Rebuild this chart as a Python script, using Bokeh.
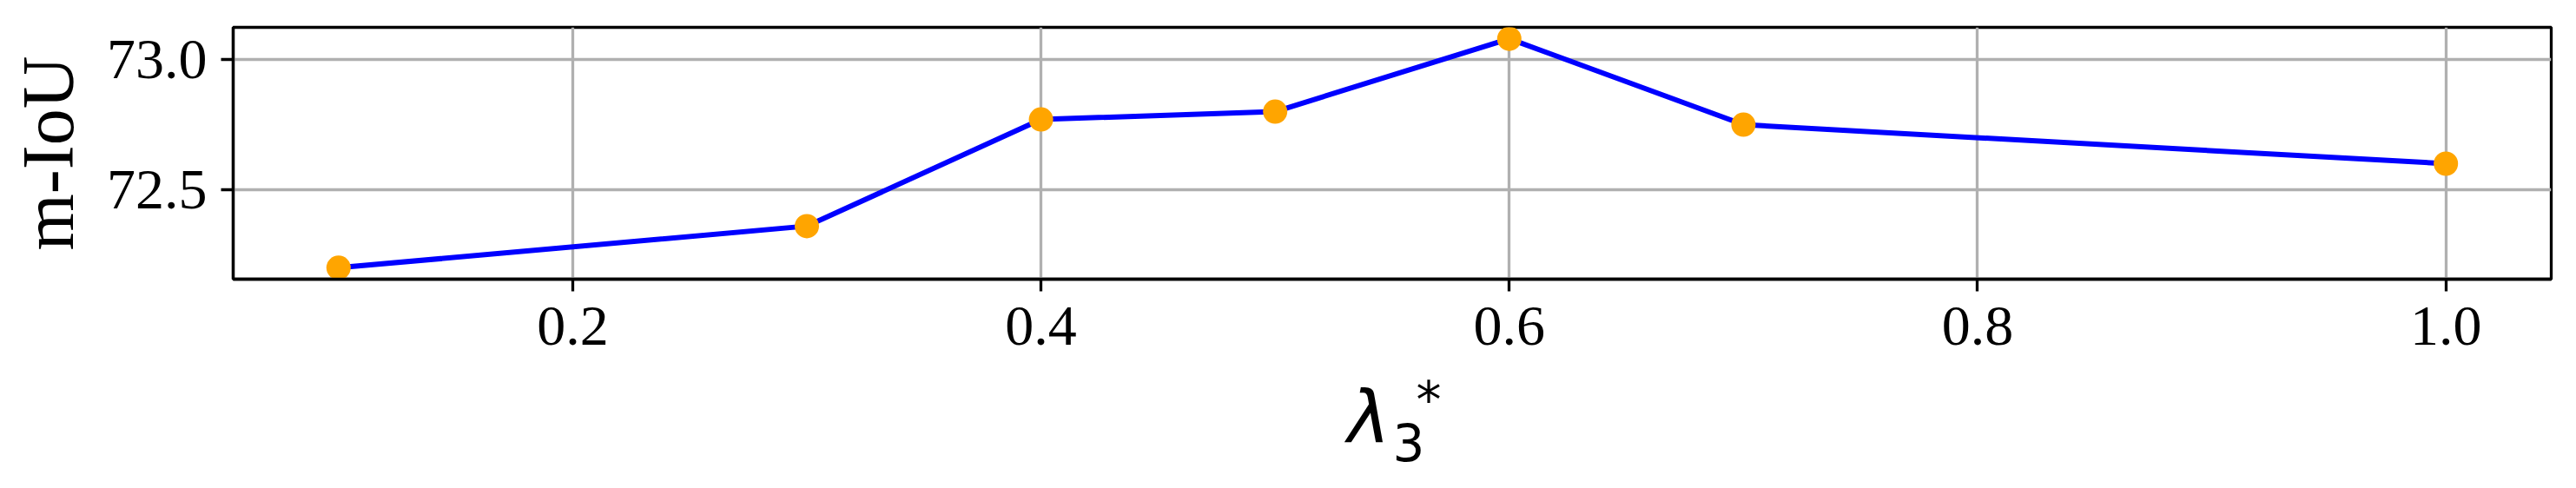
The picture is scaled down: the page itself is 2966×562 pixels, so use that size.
from bokeh.plotting import figure
from bokeh.models import Range1d, FixedTicker, PrintfTickFormatter
from bokeh.layouts import column
from bokeh.core.properties import value
from bokeh.embed import file_html
from bokeh.resources import INLINE

# data
lambda3 = [0.1, 0.3, 0.4, 0.5, 0.6, 0.7, 1.0]
miou = [72.20, 72.36, 72.77, 72.80, 73.08, 72.75, 72.60]
x_ticks = [0.2, 0.4, 0.6, 0.8, 1.0]
y_ticks = [72.5, 73.0]
y_label = "m-IoU"
x_label_parts = ["λ", "3", "*"]

W = 2950
H1, H2 = 424, 122
FRAME_L, FRAME_R = 268, 2937

p = figure(width=W, height=H1, output_backend="svg", toolbar_location=None,
           x_range=Range1d(0.055, 1.045), y_range=Range1d(72.156, 73.124),
           min_border_left=FRAME_L, min_border_right=W - FRAME_R, min_border_top=31,
           min_border_bottom=H1 - 321)
p.background_fill_color = "white"
p.border_fill_color = "white"
p.outline_line_color = "black"
p.outline_line_width = 3.3

p.line(lambda3, miou, line_color="#0000ff", line_width=6)
p.scatter(lambda3, miou, size=28, fill_color="#ffa500", line_color=None)

p.xaxis.ticker = FixedTicker(ticks=x_ticks)
p.yaxis.ticker = FixedTicker(ticks=y_ticks)
p.xaxis.formatter = PrintfTickFormatter(format="%.1f")
p.yaxis.formatter = PrintfTickFormatter(format="%.1f")
for ax in (p.xaxis[0], p.yaxis[0]):
    ax.axis_line_color = "black"
    ax.axis_line_width = 3.3
    ax.major_tick_line_color = "black"
    ax.major_tick_line_width = 3.3
    ax.major_tick_out = 14
    ax.major_tick_in = 0
    ax.minor_tick_line_color = None
    ax.major_label_text_font = "Liberation Serif"
    ax.major_label_text_font_size = "66px"
    ax.major_label_text_color = "black"
p.xaxis.major_label_standoff = 18
p.yaxis.major_label_standoff = 16

p.yaxis.axis_label = y_label
p.yaxis.axis_label_text_font = "Liberation Serif"
p.yaxis.axis_label_text_font_size = "84px"
p.yaxis.axis_label_text_font_style = "normal"
p.yaxis.axis_label_text_color = "black"
p.yaxis.axis_label_standoff = 18

p.xgrid.grid_line_color = "#b0b0b0"
p.ygrid.grid_line_color = "#b0b0b0"
p.xgrid.grid_line_width = 3.3
p.ygrid.grid_line_width = 3.3

# second strip holding the x-axis label  lambda_3^*  (pixel coordinates;
# the column aligns this frame with the main frame horizontally)
p2 = figure(width=W, height=H2, output_backend="svg", toolbar_location=None,
            x_range=Range1d(FRAME_L, FRAME_R), y_range=Range1d(0, H2),
            x_axis_location=None, y_axis_location=None, title=None,
            min_border=0, min_border_left=0, min_border_right=0,
            min_border_top=0, min_border_bottom=0)
p2.outline_line_color = None
p2.grid.visible = False
p2.background_fill_color = "white"
p2.border_fill_color = "white"

p2.text(x=[1551], y=[65], text=[x_label_parts[0]], text_font=value("DejaVu Sans"),
        text_font_style="italic", text_font_size="83px", text_color="black",
        text_align="left", text_baseline="alphabetic")
p2.text(x=[1603], y=[37], text=[x_label_parts[1]], text_font=value("DejaVu Sans"),
        text_font_size="58px", text_color="black",
        text_align="left", text_baseline="alphabetic")
p2.text(x=[1630], y=[86], text=[x_label_parts[2]], text_font=value("DejaVu Sans"),
        text_font_size="58px", text_color="black",
        text_align="left", text_baseline="alphabetic")

layout = column(p, p2, spacing=0)
open("out.html", "w").write(file_html(layout, INLINE))
